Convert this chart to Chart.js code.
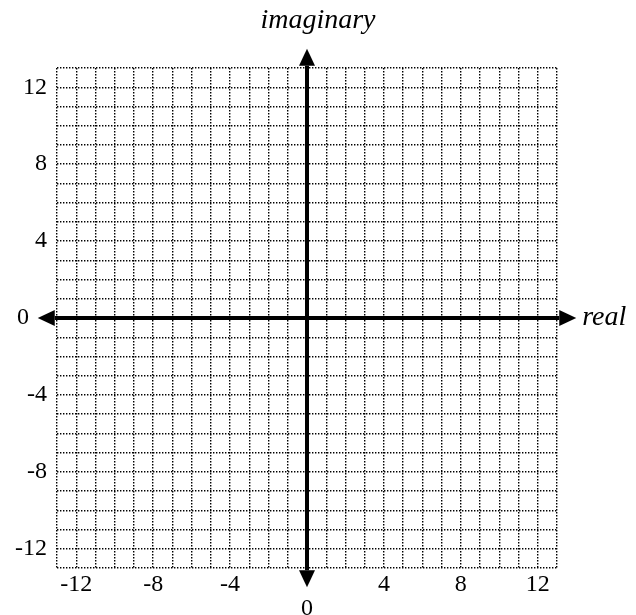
<!DOCTYPE html>
<html>
<head>
<meta charset="utf-8">
<script src="https://cdn.jsdelivr.net/npm/chart.js@4"></script>
<style>
    body { margin: 0; background: #ffffff; }
    canvas { display: block; }
</style>
</head>
<body>
<canvas id="myChart" width="636" height="615"></canvas>
<script>
// Axis ranges and labelled ticks of the complex plane
const realRange = [-13, 13];
const imagRange = [-13, 13];
const realTickLabels = [-12, -8, -4, 0, 4, 8, 12];
const imagTickLabels = [-12, -8, -4, 0, 4, 8, 12];
const arrowTips = [-14, 14]; // where the axis arrows end
const axisNames = { x: 'real', y: 'imaginary' };

const serif = '"Liberation Serif", serif';

// Draws the two thick axes with arrow heads, plus the axis names
const axesPlugin = {
    id: 'complexAxes',
    afterDraw(chart) {
        const ctx = chart.ctx;
        const xs = chart.scales.x;
        const ys = chart.scales.y;
        const x0 = xs.getPixelForValue(0);
        const y0 = ys.getPixelForValue(0);
        const left = xs.getPixelForValue(arrowTips[0]);
        const right = xs.getPixelForValue(arrowTips[1]);
        const top = ys.getPixelForValue(arrowTips[1]);
        const bottom = ys.getPixelForValue(arrowTips[0]);
        const len = 17; // arrow head length
        const half = 8; // arrow head half width

        ctx.save();
        ctx.strokeStyle = '#000000';
        ctx.fillStyle = '#000000';
        ctx.lineWidth = 4;
        ctx.beginPath();
        ctx.moveTo(left + len, y0);
        ctx.lineTo(right - len, y0);
        ctx.moveTo(x0, top + len);
        ctx.lineTo(x0, bottom - len);
        ctx.stroke();

        function head(tx, ty, dx, dy) {
            ctx.beginPath();
            ctx.moveTo(tx, ty);
            ctx.lineTo(tx - dx * len - dy * half, ty - dy * len - dx * half);
            ctx.lineTo(tx - dx * len + dy * half, ty - dy * len + dx * half);
            ctx.closePath();
            ctx.fill();
        }
        head(left, y0, -1, 0);
        head(right, y0, 1, 0);
        head(x0, top, 0, -1);
        head(x0, bottom, 0, 1);

        ctx.font = 'italic 28px ' + serif;
        ctx.textAlign = 'center';
        ctx.textBaseline = 'alphabetic';
        ctx.fillText(axisNames.y, chart.width / 2, 28);
        ctx.textAlign = 'left';
        ctx.textBaseline = 'middle';
        ctx.fillText(axisNames.x, right + 6, y0);
        ctx.restore();
    }
};

const gridStyle = {
    color: '#000000',
    lineWidth: 1.4,
    drawTicks: false
};

const config = {
    type: 'scatter',
    data: {
        datasets: [{ data: [] }]
    },
    options: {
        responsive: false,
        animation: false,
        layout: {
            padding: { top: 68, right: 79, bottom: 0, left: 0 }
        },
        plugins: {
            legend: { display: false },
            tooltip: { enabled: false }
        },
        scales: {
            x: {
                type: 'linear',
                min: realRange[0],
                max: realRange[1],
                grid: gridStyle,
                border: { display: false, dash: [1.4, 1.6] },
                ticks: {
                    stepSize: 1,
                    autoSkip: false,
                    maxRotation: 0,
                    padding: 5,
                    color: '#000000',
                    font: { family: serif, size: 24, lineHeight: 1 },
                    // the 0 label sits one line lower, under the arrow
                    callback: (v) => {
                        if (!realTickLabels.includes(v)) return '';
                        return v === 0 ? ['', '0'] : String(v);
                    }
                },
                afterFit: (scale) => { scale.height = 47; }
            },
            y: {
                type: 'linear',
                min: imagRange[0],
                max: imagRange[1],
                grid: gridStyle,
                border: { display: false, dash: [1.4, 1.6] },
                ticks: {
                    stepSize: 1,
                    autoSkip: false,
                    padding: 10,
                    color: '#000000',
                    font: { family: serif, size: 24 },
                    // the 0 label is pushed left of the arrow head
                    callback: (v) => {
                        if (!imagTickLabels.includes(v)) return '';
                        return v === 0 ? '0\u00a0\u00a0\u00a0' : String(v);
                    }
                },
                afterFit: (scale) => { scale.width = 57; }
            }
        }
    },
    plugins: [axesPlugin]
};

const myChart = new Chart(document.getElementById('myChart'), config);
</script>
</body>
</html>
